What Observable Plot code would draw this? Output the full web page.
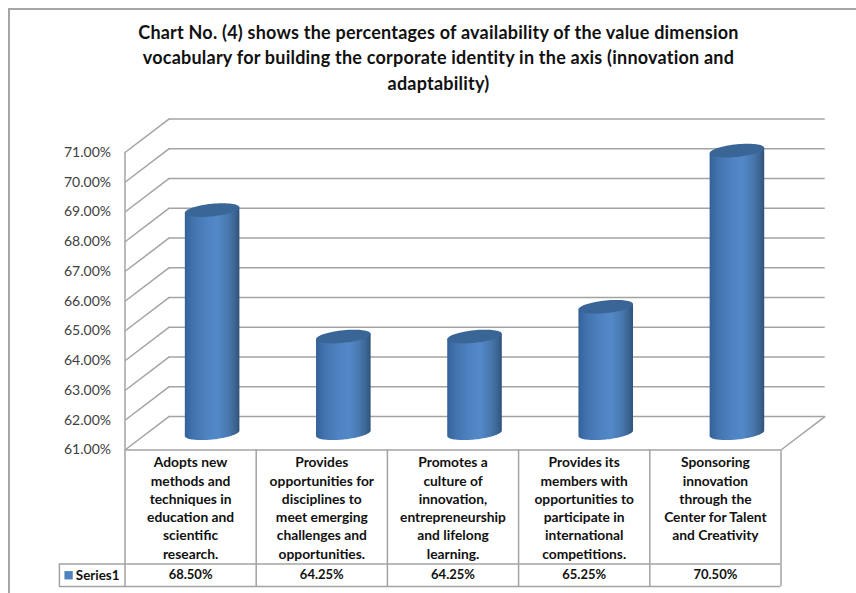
<!DOCTYPE html>
<html>
<head>
<meta charset="utf-8">
<script src="https://cdn.jsdelivr.net/npm/d3@7"></script>
<script src="https://cdn.jsdelivr.net/npm/@observablehq/plot@0.6"></script>
<style>
  html, body { margin: 0; padding: 0; background: #fff; }
  #page { position: relative; width: 856px; height: 593px; overflow: hidden; }
  #frame { position: absolute; left: 8px; top: 8px; right: -4px; bottom: -4px;
           border-left: 2px solid #a6a6a6; border-top: 2px solid #a6a6a6; }
  #title { position: absolute; left: 0; top: 20px; width: 877px; text-align: center;
           font: 700 18px/25.3px Lato, sans-serif; letter-spacing: 0.22px; color: #111; }
  #chart { position: absolute; left: 0; top: 100px; }
  #chart svg { display: block; background: transparent; }
</style>
</head>
<body>
<div id="page">
  <div id="frame"></div>
  <div id="title">Chart No. (4) shows the percentages of availability of the value dimension<br>vocabulary for building the corporate identity in the axis (innovation and<br>adaptability)</div>
  <div id="chart"></div>
</div>
<script>
const categories = [
  "Adopts new\nmethods and\ntechniques in\neducation and\nscientific\nresearch.",
  "Provides\nopportunities for\ndisciplines to\nmeet emerging\nchallenges and\nopportunities.",
  "Promotes a\nculture of\ninnovation,\nentrepreneurship\nand lifelong\nlearning.",
  "Provides its\nmembers with\nopportunities to\nparticipate in\ninternational\ncompetitions.",
  "Sponsoring\ninnovation\nthrough the\nCenter for Talent\nand Creativity"
];
const values = [68.5, 64.25, 64.25, 65.25, 70.5];
const yTicks = [61, 62, 63, 64, 65, 66, 67, 68, 69, 70, 71];
const seriesName = "Series1";

// Oblique projection: how far the back wall sits from the front plane, in data units.
const depthX = 0.337, depthY = 1.128;
// Cylinder cross-section in data units.
const radiusX = 0.208, radiusY = 0.212, shear = 0.09;
// Data-table rows hang below the value axis.
const legendLeft = -0.5, row2 = 57.17, row3 = 56.41, rowText = 56.79;

const pct = d => d.toFixed(2) + "%";
const grey = "#a3a3a3";
const index = values.map((_, i) => i);

function ellipsePoint(cx, cy, t) {
  return {x: cx + radiusX * Math.cos(t), y: cy + radiusY * Math.sin(t) + shear * Math.cos(t)};
}
const halfTurn = d3.range(0, 49).map(k => k / 48 * Math.PI);
const fullTurn = d3.range(0, 72).map(k => k / 72 * 2 * Math.PI);
const centerX = i => i + 0.5 + (depthX - 0.009) / 2;

// Side of each cylinder: a straight edge across the top, then the front half of the base rim.
const bodies = index.flatMap(i => {
  const top = values[i] + depthY / 2, base = 61 + depthY / 2;
  return [
    ellipsePoint(centerX(i), top, Math.PI),
    ellipsePoint(centerX(i), top, 0),
    ...halfTurn.map(t => ellipsePoint(centerX(i), base, -t))
  ].map(p => ({...p, i}));
});
// Elliptical caps on top of the cylinders.
const caps = index.flatMap(i =>
  fullTurn.map(t => ({...ellipsePoint(centerX(i), values[i] + depthY / 2, t), i}))
);

const gradient = () => {
  const defs = d3.create("svg:defs");
  const g = defs.append("linearGradient").attr("id", "cylinderSide");
  [[0, "#33619a"], [0.15, "#4273ae"], [0.4, "#4e82c1"], [0.6, "#5389c9"],
   [0.8, "#4877ad"], [0.93, "#3a6390"], [1, "#2f517b"]]
    .forEach(([o, c]) => g.append("stop").attr("offset", o).attr("stop-color", c));
  return defs.node();
};

const chart = Plot.plot({
  width: 856,
  height: 493,
  marginLeft: 124.5,
  marginRight: 75.5,
  marginTop: 52,
  marginBottom: 143.5,
  style: {fontFamily: "Lato, sans-serif", overflow: "visible"},
  x: {domain: [0, 5], axis: null},
  y: {domain: [61, 71], axis: null},
  marks: [
    gradient,
    // Back wall gridlines and the side-wall diagonals.
    Plot.ruleY(yTicks, {x1: () => depthX, x2: () => 5 + depthX, y: d => d + depthY, stroke: grey, strokeWidth: 1.5}),
    Plot.link(yTicks, {x1: () => 0, x2: () => depthX, y1: d => d, y2: d => d + depthY, stroke: grey, strokeWidth: 1.5}),
    Plot.link([61], {x1: () => 5, x2: () => 5 + depthX, y1: d => d, y2: d => d + depthY, stroke: grey, strokeWidth: 1.5}),
    Plot.ruleX([0], {y1: 61, y2: 71, stroke: grey, strokeWidth: 1.5}),
    Plot.axisY(yTicks, {tickFormat: pct, tickSize: 0, tickPadding: 14, fontSize: 14, fill: "#404040", label: null}),
    // Cylinders.
    Plot.line(bodies, {x: "x", y: "y", z: "i", fill: "url(#cylinderSide)", stroke: "none"}),
    Plot.line(caps, {x: "x", y: "y", z: "i", fill: "#3a6697", stroke: "none"}),
    // Data table below the plot.
    Plot.ruleY([61], {x1: () => 0, x2: () => 5, stroke: grey, strokeWidth: 1.5}),
    Plot.ruleY([row2, row3], {x1: () => legendLeft, x2: () => 5, stroke: grey, strokeWidth: 1.5}),
    Plot.ruleX(d3.range(0, 6), {y1: row3, y2: 61, stroke: grey, strokeWidth: 1.5}),
    Plot.ruleX([legendLeft], {y1: row3, y2: row2, stroke: grey, strokeWidth: 1.5}),
    Plot.text(categories, {x: (_, i) => i + 0.5, y: () => 61, dy: 4.5, lineAnchor: "top", lineHeight: 1.32,
      fontSize: 13.8, fontWeight: 700, fill: "#111"}),
    Plot.text(values, {x: (_, i) => i + 0.5, y: () => rowText, text: pct, fontSize: 13, fontWeight: 700, fill: "#111"}),
    Plot.dot([seriesName], {x: () => -0.43, y: () => rowText, symbol: "square", r: 4.7, fill: "#4f81bd"}),
    Plot.text([seriesName], {x: () => -0.042, y: () => rowText, textAnchor: "end", fontSize: 13.4, fontWeight: 700, fill: "#111"})
  ]
});
document.getElementById("chart").append(chart);
</script>
</body>
</html>
